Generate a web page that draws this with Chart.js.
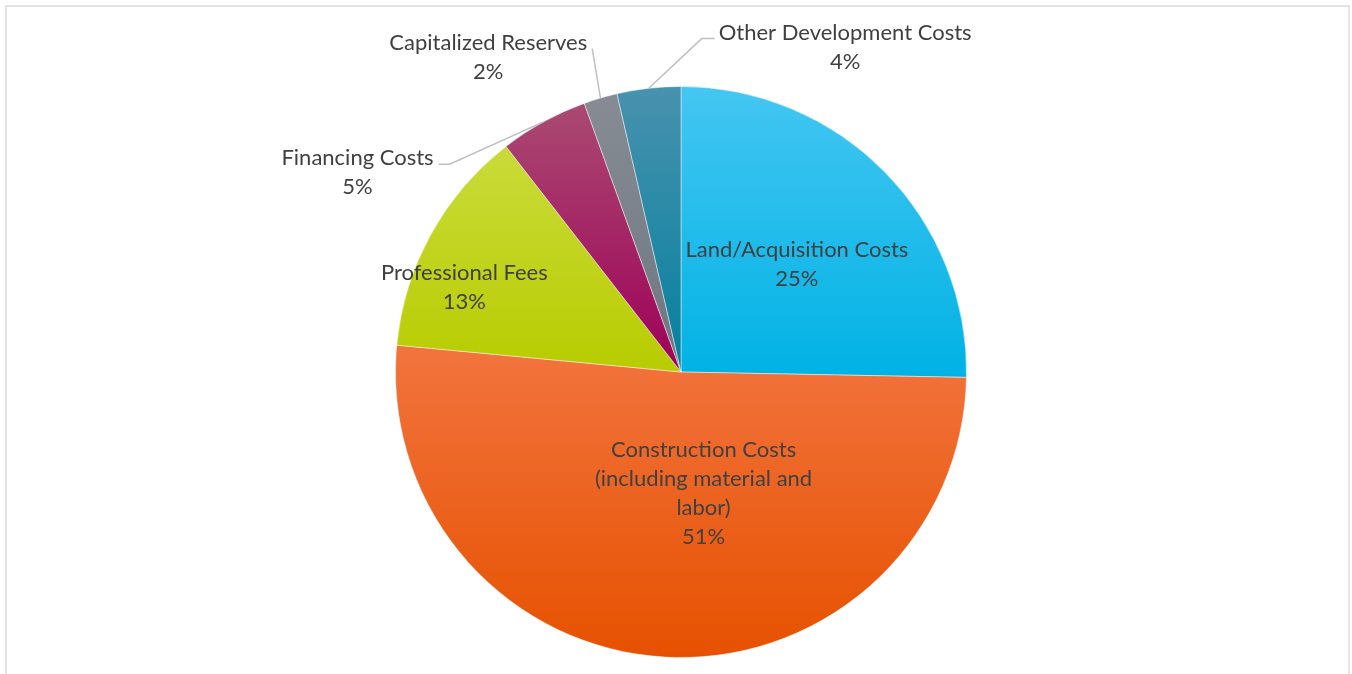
<!DOCTYPE html>
<html>
<head>
<meta charset="utf-8">
<title>Development cost breakdown</title>
<script src="https://cdn.jsdelivr.net/npm/chart.js@4.4.1/dist/chart.umd.min.js"></script>
<style>
  html, body { margin: 0; padding: 0; background: #fff; overflow: hidden; }
  .frame {
    position: absolute; left: 5px; top: 5px; width: 1341px; height: 700px;
    border: 2px solid #e3e3e3; box-sizing: content-box;
  }
  .wrap { position: absolute; left: 0; top: 0; width: 1352px; height: 674px; }
</style>
</head>
<body>
<div class="frame"></div>
<div class="wrap"><canvas id="costChart" width="1352" height="674"></canvas></div>
<script>
// slice data, clockwise from 12 o'clock
const categories = [
  'Land/Acquisition Costs',
  'Construction Costs (including material and labor)',
  'Professional Fees',
  'Financing Costs',
  'Capitalized Reserves',
  'Other Development Costs',
];
const shares = [25.3, 51.2, 13.0, 5.0, 1.9, 3.6];
const labelLines = [
  ['Land/Acquisition Costs'],
  ['Construction Costs', '(including material and', 'labor)'],
  ['Professional Fees'],
  ['Financing Costs'],
  ['Capitalized Reserves'],
  ['Other Development Costs'],
];

// gradient colours (top, bottom) for each slice
const topColors = ['#44c6f2', '#f2743e', '#cadb3a', '#aa4a72', '#878c94', '#4892ae'];
const bottomColors = ['#00b2e4', '#e65100', '#b8cc00', '#9e0058', '#6c7680', '#04809e'];

// label block centres, in pie-radius units from the pie centre
const labelOffsets = [
  [0.406, -0.376],
  [0.079, 0.425],
  [-0.759, -0.295],
  [-1.133, -0.698],
  [-0.675, -1.103],
  [0.575, -1.138],
];
// leader lines for outside labels: side of the label and elbow length
const leaders = [null, null, null, { side: 'right', elbow: 11 }, { side: 'right', elbow: 0 }, { side: 'left', elbow: 13 }];

const FONT = '22px Lato';
const LINE_H = 29;
const TEXT_COLOR = '#404040';

function sliceGradient(context) {
  const chart = context.chart;
  const i = context.dataIndex;
  const area = chart.chartArea;
  if (!area) return topColors[i];
  const cx = (area.left + area.right) / 2;
  const cy = (area.top + area.bottom) / 2;
  const r = Math.min(area.right - area.left, area.bottom - area.top) / 2;
  const total = shares.reduce((a, b) => a + b, 0);
  const before = shares.slice(0, i).reduce((a, b) => a + b, 0);
  const a0 = -Math.PI / 2 + before / total * Math.PI * 2;
  const a1 = a0 + shares[i] / total * Math.PI * 2;
  let minY = cy, maxY = cy;
  for (let k = 0; k <= 40; k++) {
    const y = cy + r * Math.sin(a0 + (a1 - a0) * k / 40);
    minY = Math.min(minY, y);
    maxY = Math.max(maxY, y);
  }
  const g = chart.ctx.createLinearGradient(0, minY, 0, maxY);
  g.addColorStop(0, topColors[i]);
  g.addColorStop(1, bottomColors[i]);
  return g;
}

const sliceLabels = {
  id: 'sliceLabels',
  afterDatasetsDraw(chart) {
    const ctx = chart.ctx;
    const arcs = chart.getDatasetMeta(0).data;
    ctx.save();
    ctx.font = FONT;
    ctx.fillStyle = TEXT_COLOR;
    ctx.textAlign = 'center';
    ctx.textBaseline = 'middle';
    arcs.forEach((arc, i) => {
      const r = arc.outerRadius;
      const lines = labelLines[i].concat([Math.round(shares[i]) + '%']);
      const bx = arc.x + labelOffsets[i][0] * r;
      const by = arc.y + labelOffsets[i][1] * r;
      const firstY = by - (lines.length - 1) * LINE_H / 2;
      lines.forEach((t, k) => ctx.fillText(t, bx, firstY + k * LINE_H));

      const lead = leaders[i];
      if (lead) {
        const w = Math.max(...lines.map(t => ctx.measureText(t).width));
        const mid = (arc.startAngle + arc.endAngle) / 2;
        const ex = arc.x + Math.cos(mid) * r;
        const ey = arc.y + Math.sin(mid) * r;
        const sy = firstY + 6;
        const sx = lead.side === 'right' ? bx + w / 2 + 5 : bx - w / 2 - 4;
        const kx = lead.side === 'right' ? sx + lead.elbow : sx - lead.elbow;
        ctx.beginPath();
        ctx.moveTo(sx, sy);
        ctx.lineTo(kx, sy);
        ctx.lineTo(ex, ey);
        ctx.strokeStyle = '#bfbfbf';
        ctx.lineWidth = 1.5;
        ctx.stroke();
      }
    });
    ctx.restore();
  },
};

new Chart(document.getElementById('costChart'), {
  type: 'pie',
  data: {
    labels: categories,
    datasets: [{
      data: shares,
      backgroundColor: sliceGradient,
      borderColor: 'rgba(255, 255, 255, 0.45)',
      borderWidth: 1,
      hoverOffset: 0,
      offset: 0,
    }],
  },
  options: {
    responsive: false,
    animation: false,
    events: [],
    layout: { padding: { left: 10, right: 0, top: 86, bottom: 16 } },
    plugins: {
      legend: { display: false },
      tooltip: { enabled: false },
    },
  },
  plugins: [sliceLabels],
});
</script>
</body>
</html>
